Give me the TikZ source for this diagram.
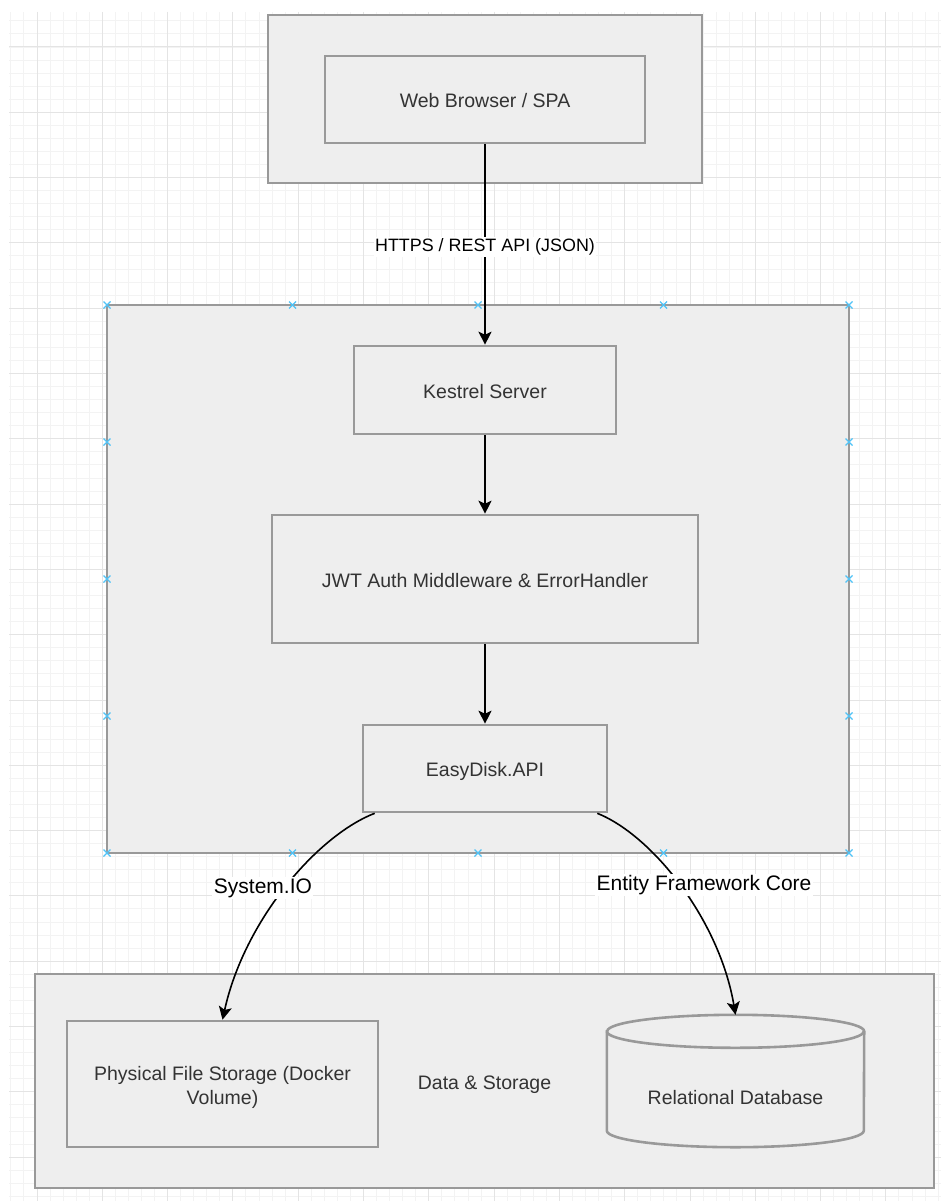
\documentclass[tikz,border=0pt]{standalone}
\usepackage{fontspec}
\setmainfont{Liberation Sans}
\usetikzlibrary{arrows.meta}
\definecolor{boxfill}{HTML}{EEEEEE}
\definecolor{boxline}{HTML}{999999}
\definecolor{boxtext}{HTML}{333333}
\definecolor{gridminor}{HTML}{F3F3F3}
\definecolor{gridmajor}{HTML}{E4E4E4}
\definecolor{handle}{HTML}{4FC3F7}
\begin{document}
\begin{tikzpicture}[x=1pt,y=-1pt]
			\tikzstyle{every node}+=[inner sep=0pt]
			\tikzstyle{box}=[draw=boxline, fill=boxfill, line width=2.6pt, text=boxtext, font=\fontsize{19.5}{24}\selectfont, text height=16pt, text depth=0pt]
			\tikzstyle{link}=[black, line width=1.6pt, -{Stealth[length=13pt,width=13pt,inset=3pt]}]
			\tikzstyle{lbl}=[fill=white, inner sep=1.5pt, text=black]
			\useasboundingbox (0,0) rectangle (941,1201);
			\foreach \i in {0,...,71} \draw [gridminor, line width=1pt] ({10.9+13.06*\i},12) -- ({10.9+13.06*\i},1201);
			\foreach \i in {0,...,90} \draw [gridminor, line width=1pt] (9,{20.9+13.06*\i}) -- (941,{20.9+13.06*\i});
			\foreach \i in {0,...,13} \draw [gridmajor, line width=1pt] ({37+65.3*\i},12) -- ({37+65.3*\i},1201);
			\foreach \i in {0,...,17} \draw [gridmajor, line width=1pt] (9,{47+65.3*\i}) -- (941,{47+65.3*\i});
			\node [box, minimum width=434pt, minimum height=168pt] (client) at (485,99) {};
			\node [box, minimum width=320pt, minimum height=87pt] (browser) at (485,99.5) {Web Browser / SPA};
			\node [box, minimum width=742pt, minimum height=548pt] (backend) at (478,579) {};
			\node [box, minimum width=262pt, minimum height=88pt] (kestrel) at (485,390) {Kestrel Server};
			\node [box, minimum width=426pt, minimum height=128pt] (jwt) at (485,579) {JWT Auth Middleware \& ErrorHandler};
			\node [box, minimum width=244pt, minimum height=87pt] (api) at (485,768.5) {EasyDisk.API};
			\node [box, minimum width=899pt, minimum height=214pt] (storage) at (484.5,1081) {Data \& Storage};
			\node [box, minimum width=311pt, minimum height=126pt, align=center, text height=40pt, text depth=0pt] (files) at (222.5,1084) {Physical File Storage (Docker\\Volume)};
			\node [minimum width=257pt, minimum height=132pt] (db) at (735.5,1081) {};
			\filldraw [draw=boxline, fill=boxfill, line width=2.6pt] ([yshift=-16.5pt]db.north west) -- ([yshift=16.5pt]db.south west) arc [start angle=180, end angle=360, x radius=128.5pt, y radius=16.5pt] -- ([yshift=-16.5pt]db.north east) arc [start angle=0, end angle=180, x radius=128.5pt, y radius=16.5pt] -- cycle;
			\draw [boxline, line width=2.6pt] ([yshift=-16.5pt]db.north west) arc [start angle=180, end angle=360, x radius=128.5pt, y radius=16.5pt];
			\node [text=boxtext, font=\fontsize{19.5}{24}\selectfont, text height=16pt, text depth=0pt] (dbname) at (735.5,1096) {Relational Database};
			\draw [link] (browser) -- node [lbl, yshift=-2.5pt, font=\fontsize{17.9}{21}\selectfont] (restlbl) {HTTPS / REST API (JSON)} (kestrel);
			\draw [link] (kestrel) -- (jwt);
			\draw [link] (jwt) -- (api);
			\draw [link] ([xshift=13pt]api.south west) .. controls +(-57,22) and +(22,-100) .. (files.north) node [lbl, pos=.5, xshift=-22.5pt, yshift=-1pt, font=\fontsize{21}{24}\selectfont] (iolbl) {System.IO};
			\draw [link] ([xshift=-11pt]api.south east) .. controls +(55,22) and +(-16,-95) .. (db.north) node [lbl, pos=.5, xshift=23pt, yshift=1.5pt, font=\fontsize{21}{24}\selectfont] (eflbl) {Entity Framework Core};
			\foreach \hx in {107,292.5,478,663.5,849} {
				\draw [handle, line width=1.2pt] (\hx,305) +(-3.5,-3.5) -- +(3.5,3.5) +(-3.5,3.5) -- +(3.5,-3.5);
				\draw [handle, line width=1.2pt] (\hx,853) +(-3.5,-3.5) -- +(3.5,3.5) +(-3.5,3.5) -- +(3.5,-3.5);
			}
			\foreach \hy in {442,579,716} {
				\draw [handle, line width=1.2pt] (107,\hy) +(-3.5,-3.5) -- +(3.5,3.5) +(-3.5,3.5) -- +(3.5,-3.5);
				\draw [handle, line width=1.2pt] (849,\hy) +(-3.5,-3.5) -- +(3.5,3.5) +(-3.5,3.5) -- +(3.5,-3.5);
			}
\end{tikzpicture}
\end{document}
